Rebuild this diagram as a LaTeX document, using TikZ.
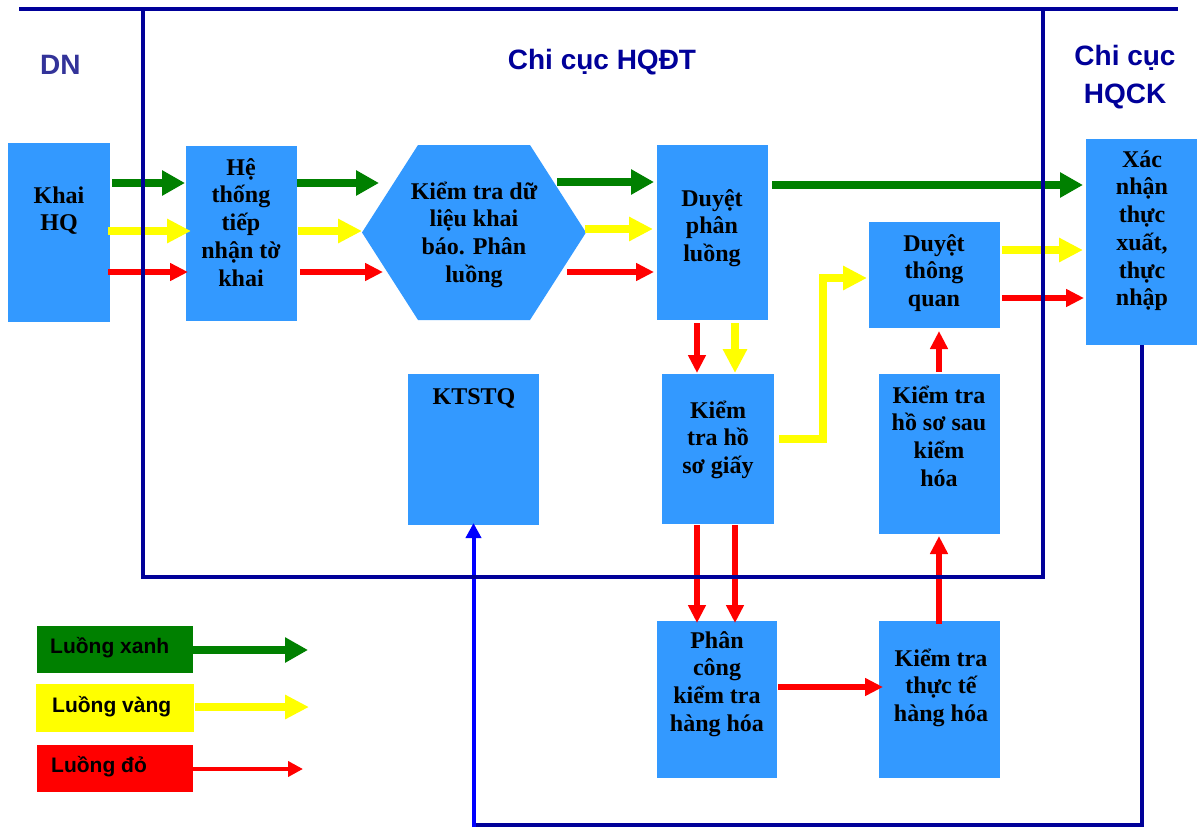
\documentclass[tikz,border=0pt]{standalone}
\usepackage{fontspec}
\setmainfont{Liberation Serif}
\setsansfont{Liberation Sans}
\usetikzlibrary{arrows.meta,calc}
\definecolor{boxblue}{HTML}{3399FF}
\definecolor{navy}{HTML}{000099}
\definecolor{dnblue}{HTML}{333399}
\definecolor{gr}{HTML}{008000}
\definecolor{yl}{HTML}{FFFF00}
\definecolor{rd}{HTML}{FF0000}
\definecolor{bl}{HTML}{0000FF}
\newcommand\fixedlines{\lineskiplimit -50pt\relax}
\begin{document}
\begin{tikzpicture}[x=1pt,y=-1pt,
  box/.style={fill=boxblue, draw=none, inner sep=0pt, outer sep=0pt, anchor=north west},
  txt/.style={font={\fontsize{24}{27.7}\selectfont\bfseries\fixedlines}, align=center, inner sep=0pt, anchor=north, text=black},
  ttl/.style={font={\sffamily\bfseries\fontsize{28}{38}\selectfont\fixedlines}, text=navy, inner sep=0pt},
  lgtxt/.style={font={\sffamily\bfseries\fontsize{21}{25}\selectfont}, inner sep=0pt, anchor=base west, text=black},
  garr/.style={draw=gr, line width=8pt, -{Triangle[length=23pt,width=24pt]}},
  yarr/.style={draw=yl, line width=7.5pt, -{Triangle[length=24pt,width=23pt]}},
  rarr/.style={draw=rd, line width=6pt, -{Triangle[length=18pt,width=17pt]}},
  rthin/.style={draw=rd, line width=4.7pt, -{Triangle[length=15pt,width=15pt]}},
  frame/.style={draw=navy, line width=4pt},
  loopline/.style={draw=navy, line width=4pt},
  back/.style={draw=bl, line width=4pt, -{Triangle[length=15pt,width=15pt]}}
]
\useasboundingbox[fill=white] (0,0) rectangle (1203,828);

% boxes
\node[box, minimum width=102pt, minimum height=179pt] (khai) at (8,143) {};
\node[box, minimum width=111pt, minimum height=175pt] (he) at (186,146) {};
\node[box, fill=none, minimum width=224pt, minimum height=175pt] (hex) at (362,145) {};
\fill[boxblue] (hex.west) -- ($(hex.north west)+(56,0)$) -- ($(hex.north east)+(-56,0)$)
  -- (hex.east) -- ($(hex.south east)+(-56,0)$) -- ($(hex.south west)+(56,0)$) -- cycle;
\node[box, minimum width=111pt, minimum height=175pt] (duyet) at (657,145) {};
\node[box, minimum width=111pt, minimum height=206pt] (xac) at (1086,139) {};
\node[box, minimum width=131pt, minimum height=106pt] (dtq) at (869,222) {};
\node[box, minimum width=131pt, minimum height=151pt] (ktstq) at (408,374) {};
\node[box, minimum width=112pt, minimum height=150pt] (giay) at (662,374) {};
\node[box, minimum width=121pt, minimum height=160pt] (hss) at (879,374) {};
\node[box, minimum width=120pt, minimum height=157pt] (phan) at (657,621) {};
\node[box, minimum width=121pt, minimum height=157pt] (thuc) at (879,621) {};

% box texts
\node[txt] (tkhai) at (59,178) {\rule{0pt}{25pt}Khai\\HQ};
\node[txt] (the) at (241,150) {\rule{0pt}{25pt}Hệ\\thống\\tiếp\\nhận tờ\\khai};
\node[txt] (thex) at (474,174) {\rule{0pt}{25pt}Kiểm tra dữ\\liệu khai\\báo. Phân\\luồng};
\node[txt] (tduyet) at (712,181) {\rule{0pt}{25pt}Duyệt\\phân\\luồng};
\node[txt] (txac) at (1142,142) {\rule{0pt}{25pt}Xác\\nhận\\thực\\xuất,\\thực\\nhập};
\node[txt] (tdtq) at (934,226) {\rule{0pt}{25pt}Duyệt\\thông\\quan};
\node[txt] (tktstq) at (474,379) {\rule{0pt}{25pt}KTSTQ};
\node[txt] (tgiay) at (718,393) {\rule{0pt}{25pt}Kiểm\\tra hồ\\sơ giấy};
\node[txt] (thss) at (939,378) {\rule{0pt}{25pt}Kiểm tra\\hồ sơ sau\\kiểm\\hóa};
\node[txt] (tphan) at (717,623) {\rule{0pt}{25pt}Phân\\công\\kiểm tra\\hàng hóa};
\node[txt] (tthuc) at (941,641) {\rule{0pt}{25pt}Kiểm tra\\thực tế\\hàng hóa};

% titles
\node[ttl, text=dnblue, anchor=base west] (dn) at (40,74) {DN};
\node[ttl, anchor=base] (hqdt) at (602,69) {Chi cục HQĐT};
\node[ttl, anchor=north, align=center] (hqck) at (1125,43) {\rule{0pt}{22pt}Chi cục\\HQCK};

% horizontal flows
\draw[garr, shorten <=2pt, shorten >=1pt] (khai.east |- 0,183) -- (he.west |- 0,183);
\draw[yarr, shorten <=-2pt, shorten >=-5pt] (khai.east |- 0,231) -- (he.west |- 0,231);
\draw[rarr, shorten <=-2pt, shorten >=-2pt] (khai.east |- 0,272) -- (he.west |- 0,272);
\draw[garr, shorten >=-17pt] (he.east |- 0,183) -- (hex.west |- 0,183);
\draw[yarr, shorten <=1pt] (he.east |- 0,231) -- (hex.west |- 0,231);
\draw[rarr, shorten <=3pt, shorten >=-21pt] (he.east |- 0,272) -- (hex.west |- 0,272);
\draw[garr, shorten <=-29pt, shorten >=3pt] (hex.east |- 0,182) -- (duyet.west |- 0,182);
\draw[yarr, shorten <=-1pt, shorten >=4pt] (hex.east |- 0,229) -- (duyet.west |- 0,229);
\draw[rarr, shorten <=-19pt, shorten >=3pt] (hex.east |- 0,272) -- (duyet.west |- 0,272);
\draw[garr, shorten <=4pt, shorten >=3pt] (duyet.east |- 0,185) -- (xac.west |- 0,185);
\draw[yarr, shorten <=2pt, shorten >=3pt] (dtq.east |- 0,250) -- (xac.west |- 0,250);
\draw[rarr, shorten <=2pt, shorten >=2pt] (dtq.east |- 0,298) -- (xac.west |- 0,298);

% vertical flows
\draw[rarr, shorten <=3pt, shorten >=1pt] (duyet.south -| 697,0) -- (giay.north -| 697,0);
\draw[yarr, shorten <=3pt, shorten >=1pt] (duyet.south -| 735,0) -- (giay.north -| 735,0);
\draw[rarr, shorten <=1pt, shorten >=-2pt] (giay.south -| 697,0) -- (phan.north -| 697,0);
\draw[rarr, shorten <=1pt, shorten >=-2pt] (giay.south -| 735,0) -- (phan.north -| 735,0);
\draw[yarr, shorten <=5pt, shorten >=2pt] (giay.east |- 0,439) -- (823,439) -- (823,278) -- (dtq.west |- 0,278);
\draw[rarr, shorten <=1pt, shorten >=-4pt] (phan.east |- 0,687) -- (thuc.west |- 0,687);
\draw[rarr, shorten <=-3pt, shorten >=2pt] (thuc.north -| 939,0) -- (hss.south -| 939,0);
\draw[rarr, shorten <=2pt, shorten >=3pt] (hss.north -| 939,0) -- (dtq.south -| 939,0);

% loop back to KTSTQ
\draw[loopline] (xac.south) -- (xac.south |- 0,825) -- (ktstq.south |- 0,825);
\draw[back, shorten <=-2pt, shorten >=-2pt] (ktstq.south |- 0,825) -- (ktstq.south);

% frame
\draw[frame] (143,9) rectangle (1043,577);
\draw[frame] (19,9) -- (1178,9);

% legend
\node[box, fill=gr, minimum width=156pt, minimum height=47pt] (lg) at (37,626) {};
\node[lgtxt] (lgt) at (50,653) {Luồng xanh};
\coordinate (lge) at (308,650);
\draw[garr] (lg.east |- 0,650) -- (lge);
\node[box, fill=yl, minimum width=158pt, minimum height=48pt] (ly) at (36,684) {};
\node[lgtxt] (lyt) at (52,712) {Luồng vàng};
\coordinate (lye) at (309,707);
\draw[yarr, shorten <=1pt] (ly.east |- 0,707) -- (lye);
\node[box, fill=rd, minimum width=156pt, minimum height=47pt] (lr) at (37,745) {};
\node[lgtxt] (lrt) at (51,772) {Luồng đỏ};
\coordinate (lre) at (303,769);
\draw[rthin] (lr.east |- 0,769) -- (lre);
\end{tikzpicture}
\end{document}
